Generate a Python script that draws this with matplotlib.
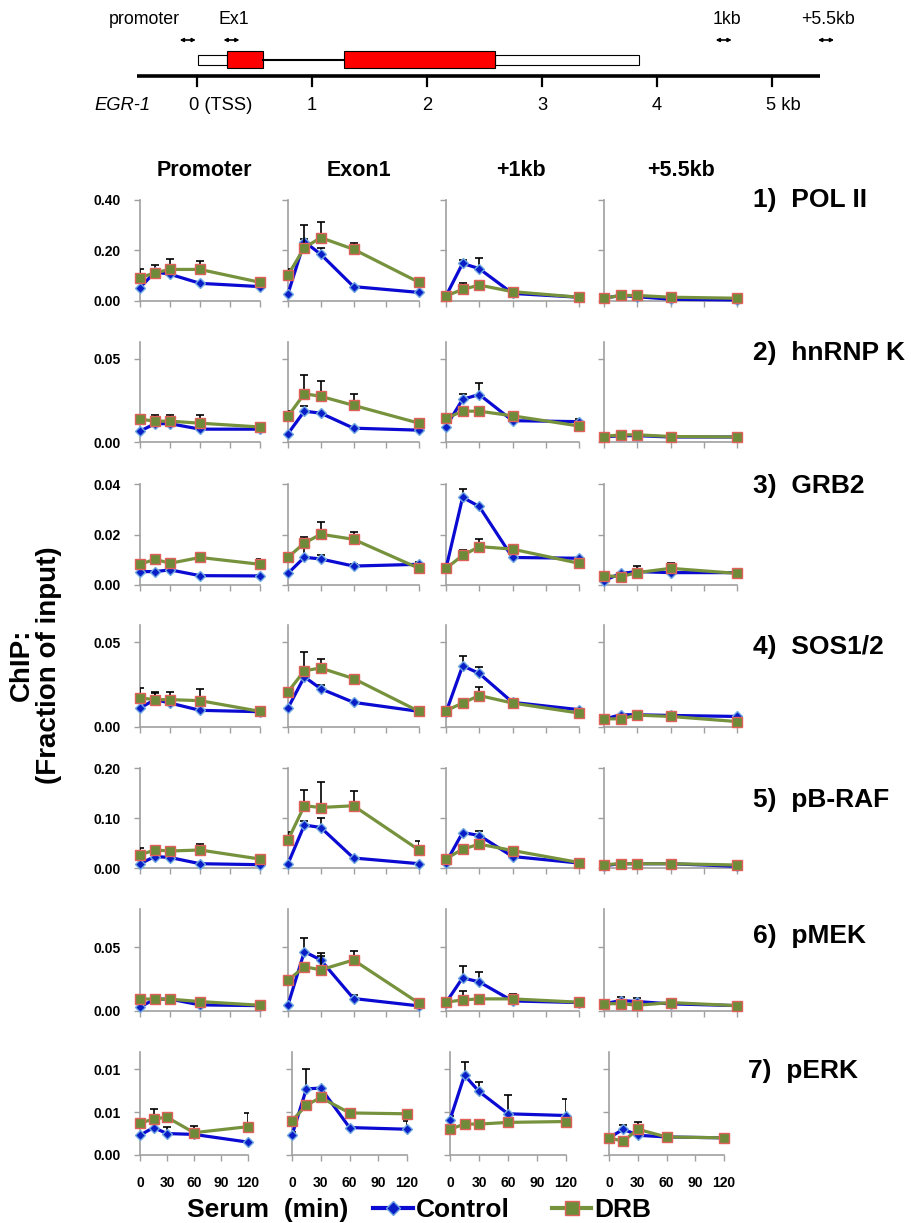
import matplotlib
matplotlib.use('Agg')
import matplotlib.pyplot as plt
from matplotlib.lines import Line2D
from matplotlib.patches import Rectangle
from matplotlib import font_manager

# ---------------- data ----------------
TIMES = [0, 15, 30, 60, 120]
XTICKS = [0, 30, 60, 90, 120]
REGIONS = ["Promoter", "Exon1", "+1kb", "+5.5kb"]
TARGETS = ["1)  POL II", "2)  hnRNP K", "3)  GRB2", "4)  SOS1/2",
           "5)  pB-RAF", "6)  pMEK", "7)  pERK"]
SERIES = ["Control", "DRB"]
YMAX = [0.40, 0.06, 0.04, 0.06, 0.20, 0.08, 0.012]
YTICKS = [[0, 0.2, 0.4], [0, 0.05], [0, 0.02, 0.04], [0, 0.05],
          [0, 0.1, 0.2], [0, 0.05], [0, 0.005, 0.01]]

# each list: [Promoter, Exon1, +1kb, +5.5kb] x TIMES
POL2_CTRL = [[0.053, 0.115, 0.106, 0.070, 0.057],
             [0.029, 0.235, 0.185, 0.057, 0.034],
             [0.020, 0.149, 0.128, 0.030, 0.015],
             [0.011, 0.022, 0.017, 0.007, 0.004]]
POL2_CTRL_ERR = [[0, 0.028, 0, 0, 0.004],
                 [0, 0.010, 0.024, 0.003, 0],
                 [0, 0.013, 0.044, 0, 0],
                 [0, 0.006, 0, 0, 0]]
POL2_DRB = [[0.092, 0.112, 0.125, 0.125, 0.074],
            [0.103, 0.211, 0.251, 0.205, 0.074],
            [0.020, 0.046, 0.063, 0.037, 0.015],
            [0.011, 0.022, 0.022, 0.015, 0.011]]
POL2_DRB_ERR = [[0.035, 0, 0.040, 0.035, 0.005],
                [0.024, 0.090, 0.063, 0.023, 0],
                [0, 0.024, 0, 0, 0],
                [0, 0, 0, 0, 0]]

HNRNPK_CTRL = [[0.0065, 0.0110, 0.0110, 0.0077, 0.0077],
               [0.0050, 0.0185, 0.0173, 0.0083, 0.0071],
               [0.0093, 0.0256, 0.0285, 0.0128, 0.0122],
               [0.0030, 0.0038, 0.0038, 0.0030, 0.0030]]
HNRNPK_CTRL_ERR = [[0, 0.003, 0.003, 0, 0],
                   [0, 0.003, 0, 0, 0],
                   [0, 0.0034, 0.0070, 0, 0.0016],
                   [0, 0, 0, 0, 0]]
HNRNPK_DRB = [[0.0137, 0.0125, 0.0125, 0.0113, 0.0090],
              [0.0155, 0.0290, 0.0274, 0.0220, 0.0113],
              [0.0142, 0.0185, 0.0185, 0.0157, 0.0096],
              [0.0033, 0.0043, 0.0043, 0.0033, 0.0030]]
HNRNPK_DRB_ERR = [[0.002, 0.004, 0.004, 0.005, 0.001],
                  [0.003, 0.011, 0.009, 0.007, 0],
                  [0.0025, 0, 0.0025, 0.002, 0],
                  [0, 0, 0, 0, 0]]

GRB2_CTRL = [[0.0053, 0.0053, 0.0060, 0.0037, 0.0036],
             [0.0046, 0.0110, 0.0103, 0.0075, 0.0082],
             [0.0066, 0.0347, 0.0311, 0.0109, 0.0106],
             [0.0017, 0.0046, 0.0053, 0.0049, 0.0049]]
GRB2_CTRL_ERR = [[0, 0, 0.0005, 0, 0.0005],
                 [0, 0.005, 0.0017, 0.001, 0.001],
                 [0, 0.0033, 0, 0, 0],
                 [0, 0, 0, 0, 0]]
GRB2_DRB = [[0.0082, 0.0102, 0.0086, 0.0109, 0.0082],
            [0.0110, 0.0166, 0.0201, 0.0181, 0.0066],
            [0.0066, 0.0117, 0.0152, 0.0142, 0.0086],
            [0.0037, 0.0033, 0.0049, 0.0066, 0.0046]]
GRB2_DRB_ERR = [[0, 0, 0, 0, 0.002],
                [0, 0.0026, 0.0048, 0.0029, 0],
                [0, 0.0022, 0.0030, 0, 0],
                [0, 0, 0.0028, 0.0023, 0]]

SOS_CTRL = [[0.0112, 0.0161, 0.0141, 0.0098, 0.0090],
            [0.0112, 0.0295, 0.0225, 0.0145, 0.0092],
            [0.0086, 0.0360, 0.0315, 0.0145, 0.0102],
            [0.0046, 0.0072, 0.0072, 0.0068, 0.0062]]
SOS_CTRL_ERR = [[0, 0.004, 0, 0, 0],
                [0, 0, 0.002, 0.001, 0],
                [0, 0.006, 0.004, 0, 0],
                [0, 0, 0, 0, 0]]
SOS_DRB = [[0.0171, 0.0161, 0.0161, 0.0155, 0.0092],
           [0.0207, 0.0331, 0.0347, 0.0285, 0.0092],
           [0.0096, 0.0141, 0.0185, 0.0141, 0.0082],
           [0.0048, 0.0048, 0.0070, 0.0062, 0.0032]]
SOS_DRB_ERR = [[0.006, 0.0044, 0.0044, 0.007, 0],
               [0, 0.011, 0.0054, 0, 0],
               [0, 0, 0.005, 0, 0],
               [0, 0, 0, 0, 0]]

PBRAF_CTRL = [[0.0086, 0.023, 0.021, 0.0086, 0.0066],
              [0.0086, 0.086, 0.081, 0.020, 0.0086],
              [0.0110, 0.071, 0.065, 0.023, 0.0099],
              [0.0046, 0.0086, 0.0086, 0.0086, 0.0033]]
PBRAF_CTRL_ERR = [[0, 0, 0, 0, 0],
                  [0, 0.009, 0.020, 0, 0],
                  [0, 0, 0.010, 0, 0],
                  [0, 0, 0, 0, 0]]
PBRAF_DRB = [[0.0265, 0.036, 0.034, 0.036, 0.0179],
             [0.056, 0.1245, 0.121, 0.1245, 0.036],
             [0.0185, 0.0377, 0.0477, 0.035, 0.011],
             [0.0066, 0.0086, 0.0086, 0.0086, 0.006]]
PBRAF_DRB_ERR = [[0.013, 0, 0, 0.012, 0.003],
                 [0.017, 0.031, 0.051, 0.029, 0.019],
                 [0, 0, 0, 0, 0],
                 [0, 0, 0, 0, 0]]

PMEK_CTRL = [[0.0032, 0.0093, 0.0093, 0.0048, 0.0042],
             [0.0048, 0.0466, 0.0400, 0.0098, 0.0040],
             [0.0066, 0.0260, 0.0228, 0.0079, 0.0066],
             [0.0056, 0.0082, 0.0074, 0.0056, 0.0042]]
PMEK_CTRL_ERR = [[0, 0, 0, 0, 0],
                 [0, 0.011, 0.0058, 0.003, 0],
                 [0, 0.0092, 0.0076, 0, 0],
                 [0, 0.003, 0.003, 0, 0]]
PMEK_DRB = [[0.0095, 0.0093, 0.0093, 0.0074, 0.0045],
            [0.0241, 0.0347, 0.0323, 0.0400, 0.0061],
            [0.0069, 0.0087, 0.0095, 0.0095, 0.0069],
            [0.0056, 0.0058, 0.0045, 0.0066, 0.0042]]
PMEK_DRB_ERR = [[0, 0, 0, 0, 0.001],
                [0, 0, 0.011, 0.0071, 0],
                [0, 0.0066, 0, 0.004, 0],
                [0, 0, 0, 0.0027, 0]]

PERK_CTRL = [[0.0023, 0.0032, 0.0025, 0.0024, 0.0015],
             [0.0023, 0.0077, 0.0078, 0.0032, 0.0030],
             [0.0041, 0.0093, 0.0074, 0.0048, 0.0046],
             [0.0020, 0.0030, 0.0023, 0.0021, 0.0020]]
PERK_CTRL_ERR = [[0, 0, 0.0008, 0, 0],
                 [0.0004, 0.0023, 0, 0, 0.001],
                 [0.0005, 0.0015, 0.0011, 0.0022, 0.0019],
                 [0.0002, 0.0005, 0, 0, 0]]
PERK_DRB = [[0.0037, 0.0042, 0.0044, 0.0026, 0.0033],
            [0.0040, 0.0058, 0.0067, 0.0049, 0.0048],
            [0.0030, 0.0036, 0.0036, 0.0038, 0.0039],
            [0.0020, 0.0016, 0.0030, 0.0021, 0.0020]]
PERK_DRB_ERR = [[0, 0.0012, 0, 0.0008, 0.0016],
                [0, 0, 0, 0, 0.0005],
                [0, 0, 0, 0, 0],
                [0, 0, 0.0008, 0, 0]]

# gene map (kb)
GENE_UTR = [(0.01, 0.26), (2.59, 3.84)]
GENE_EXONS = [(0.26, 0.57), (1.28, 2.59)]
GENE_INTRON = [(0.57, 1.28)]
AMPLICON_LABELS = ["promoter", "Ex1", "1kb", "+5.5kb"]
AMPLICON_POS = [-0.08, 0.30, 4.58, 5.47]
KB_TICKS = [0, 1, 2, 3, 4, 5]
KB_LABELS = ["0 (TSS)", "1", "2", "3", "4", "5 kb"]

ALL_CTRL = [POL2_CTRL, HNRNPK_CTRL, GRB2_CTRL, SOS_CTRL, PBRAF_CTRL, PMEK_CTRL, PERK_CTRL]
ALL_CTRL_ERR = [POL2_CTRL_ERR, HNRNPK_CTRL_ERR, GRB2_CTRL_ERR, SOS_CTRL_ERR,
                PBRAF_CTRL_ERR, PMEK_CTRL_ERR, PERK_CTRL_ERR]
ALL_DRB = [POL2_DRB, HNRNPK_DRB, GRB2_DRB, SOS_DRB, PBRAF_DRB, PMEK_DRB, PERK_DRB]
ALL_DRB_ERR = [POL2_DRB_ERR, HNRNPK_DRB_ERR, GRB2_DRB_ERR, SOS_DRB_ERR,
               PBRAF_DRB_ERR, PMEK_DRB_ERR, PERK_DRB_ERR]

# ---------------- style ----------------
plt.rcParams['font.family'] = ['Liberation Sans', 'DejaVu Sans']
W, H = 911, 1223
fig = plt.figure(figsize=(W / 100, H / 100), dpi=100)

BLUE = '#0A0AD2'
BLUE_FACE = '#0A1EC8'
BLUE_EDGE = '#6FA8E0'
GREEN = '#76923C'
GREEN_FACE = '#6E8B3A'
GREEN_EDGE = '#E0605A'
GREY = '#A0A0A0'

try:
    font_manager.findfont(font_manager.FontProperties(family='Liberation Sans Narrow'),
                          fallback_to_default=False)
    NARROW = 'Liberation Sans Narrow'
    NARROW_SCALE = 1.0
except Exception:
    NARROW = 'Liberation Sans'
    NARROW_SCALE = 0.88


def box(x0, x1, ytop, ybot):
    return [x0 / W, 1 - ybot / H, (x1 - x0) / W, (ybot - ytop) / H]


# ---------------- gene map ----------------
KB0, KBPX = 197.0, 115.0
axg = fig.add_axes([0, 1 - 125 / H, 1, 125 / H])
axg.set_xlim(-KB0 / KBPX, (W - KB0) / KBPX)
axg.set_ylim(125, 0)
axg.axis('off')
axg.plot([-0.52, 5.42], [76, 76], color='black', lw=2.6, solid_capstyle='butt')
for k, lab in zip(KB_TICKS, KB_LABELS):
    axg.plot([k, k], [76, 86], color='black', lw=1.6)
    if k == 0:
        axg.text(k - 0.07, 105, lab, ha='left', va='center', family=NARROW,
                 fontsize=15 * NARROW_SCALE)
    elif k == 5:
        axg.text(k - 0.05, 105, lab, ha='left', va='center', family=NARROW,
                 fontsize=15 * NARROW_SCALE)
    else:
        axg.text(k, 105, lab, ha='center', va='center', family=NARROW,
                 fontsize=15 * NARROW_SCALE)
axg.text(-0.65, 105, "EGR-1", ha='center', va='center', style='italic', family=NARROW,
         fontsize=15 * NARROW_SCALE)
for a, b in GENE_INTRON:
    axg.plot([a, b], [59.5, 59.5], color='black', lw=1.5)
for a, b in GENE_UTR:
    axg.add_patch(Rectangle((a, 55), b - a, 9.5, facecolor='white', edgecolor='black', lw=0.8))
for a, b in GENE_EXONS:
    axg.add_patch(Rectangle((a, 51), b - a, 16.5, facecolor='#FF0000', edgecolor='black', lw=0.8))
LABEL_SHIFT = [-0.38, 0.02, 0.03, 0.02]
for lab, pos, sh in zip(AMPLICON_LABELS, AMPLICON_POS, LABEL_SHIFT):
    axg.annotate('', xy=(pos - 0.07, 40), xytext=(pos + 0.07, 40),
                 arrowprops=dict(arrowstyle='<|-|>', color='black', lw=1.2,
                                 mutation_scale=5, shrinkA=0, shrinkB=0))
    axg.text(pos + sh, 20, lab, ha='center', va='center', family=NARROW,
             fontsize=14.5 * NARROW_SCALE)

# ---------------- panels ----------------
COL_X = [(140, 260), (288, 419), (446, 579), (604, 737)]
COL_X_LAST = [(140, 248), (292, 407), (450, 566), (609, 724)]
ROW_Y = [(200, 301), (342, 442), (484, 585), (625, 727), (768, 868), (909, 1011), (1052, 1155)]
nrows = len(TARGETS)

for r in range(nrows):
    for c in range(len(REGIONS)):
        x0, x1 = (COL_X_LAST if r == nrows - 1 else COL_X)[c]
        yt, yb = ROW_Y[r]
        ax = fig.add_axes(box(x0, x1, yt, yb))
        ax.set_xlim(0, 120)
        ax.set_ylim(0, YMAX[r])
        for s in ('top', 'right'):
            ax.spines[s].set_visible(False)
        for s in ('left', 'bottom'):
            ax.spines[s].set_color(GREY)
            ax.spines[s].set_linewidth(1.2)
        ax.set_xticks(XTICKS)
        ax.set_yticks(YTICKS[r])
        ax.tick_params(direction='out', length=4, width=1.0, color=GREY,
                       labelsize=10, pad=10)
        ax.set_yticklabels([f"{v:.2f}" for v in YTICKS[r]] if c == 0 else [],
                           fontweight='bold')
        ax.set_xticklabels([str(v) for v in XTICKS] if r == nrows - 1 else [],
                           fontweight='bold')
        ax.tick_params(axis='x', pad=11)

        for vals, errs, col, face, edge, mk, ms, z in (
                (ALL_CTRL[r][c], ALL_CTRL_ERR[r][c], BLUE, BLUE_FACE, BLUE_EDGE, 'D', 5.0, 2),
                (ALL_DRB[r][c], ALL_DRB_ERR[r][c], GREEN, GREEN_FACE, GREEN_EDGE, 's', 7.3, 4)):
            xe = [t for t, e in zip(TIMES, errs) if e > 0]
            ye = [v for v, e in zip(vals, errs) if e > 0]
            ee = [e for e in errs if e > 0]
            if xe:
                ax.errorbar(xe, ye, yerr=[[0] * len(ee), ee], fmt='none', ecolor='black',
                            elinewidth=1.2, capsize=2.6, capthick=1.2, zorder=z)
            ax.plot(TIMES, vals, color=col, lw=2.3, marker=mk, ms=ms, mfc=face, mec=edge,
                    mew=1.0, zorder=z + 1, clip_on=False)

# column titles
for lab, xc in zip(REGIONS, [204, 359, 521, 681]):
    fig.text(xc / W, 1 - 170 / H, lab, ha='center', va='center', fontsize=15.5,
             fontweight='bold')

# row labels
for lab, (yt, yb), yc in zip(TARGETS, ROW_Y, [200, 353, 486, 647, 800, 936, 1071]):
    xl = 748 if lab.startswith('7') else 753
    fig.text(xl / W, 1 - yc / H, lab, ha='left', va='center', fontsize=19,
             fontweight='bold')

# y label
fig.text(22 / W, 1 - 665 / H, "ChIP:", rotation=90, ha='center', va='center',
         fontsize=20, fontweight='bold')
fig.text(49 / W, 1 - 665 / H, "(Fraction of input)", rotation=90, ha='center',
         va='center', fontsize=20, fontweight='bold')

# x label and legend
fig.text(187 / W, 1 - 1210 / H, "Serum  (min)", ha='left', va='center', fontsize=19,
         fontweight='bold')
handles = [Line2D([], [], color=BLUE, lw=3, marker='D', ms=7.5, mfc=BLUE_FACE, mec=BLUE_EDGE,
                  mew=1.0),
           Line2D([], [], color=GREEN, lw=3, marker='s', ms=10, mfc=GREEN_FACE, mec=GREEN_EDGE,
                  mew=1.0)]
fig.legend(handles, SERIES, loc='center left', bbox_to_anchor=(373 / W, 1 - 1210 / H),
           ncol=2, frameon=False, prop={'weight': 'bold', 'size': 19},
           handlelength=1.5, handletextpad=0.12, columnspacing=1.6,
           borderpad=0, borderaxespad=0)

fig.savefig('out.png', dpi=100)
